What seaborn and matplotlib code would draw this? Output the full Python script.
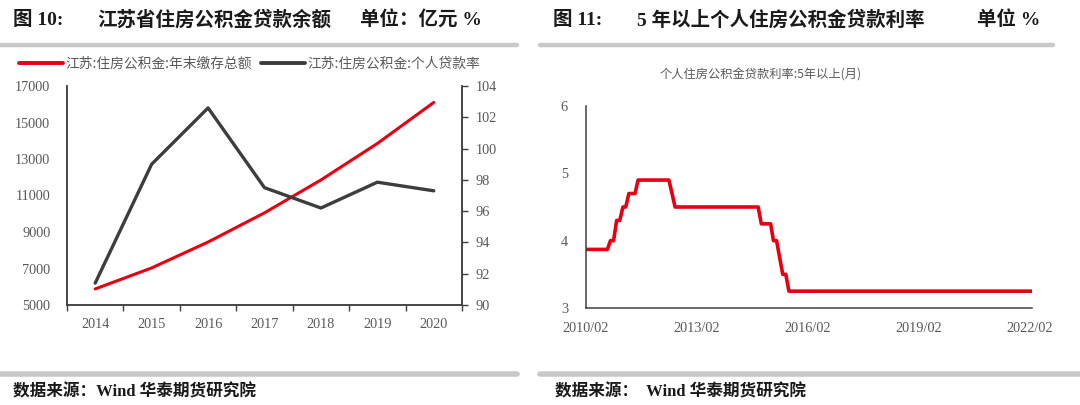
import matplotlib
matplotlib.use('Agg')
import pandas as pd
import numpy as np
import matplotlib.pyplot as plt
import matplotlib.dates as mdates
from matplotlib.lines import Line2D
import seaborn as sns

# figure 10: Jiangsu provident fund
years = ['2014', '2015', '2016', '2017', '2018', '2019', '2020']
deposit_total = [5880, 7030, 8450, 10050, 11850, 13850, 16100]
loan_ratio = [91.4, 99.0, 102.6, 97.5, 96.2, 97.85, 97.3]
deposit_label = '江苏:住房公积金:年末缴存总额'
ratio_label = '江苏:住房公积金:个人贷款率'

# figure 11: 5y+ provident fund loan rate (monthly, change points)
rate_months = ['2010-02', '2010-09', '2010-10', '2010-11', '2010-12', '2011-01',
               '2011-02', '2011-03', '2011-04', '2011-06', '2011-07', '2012-05',
               '2012-06', '2012-07', '2014-10', '2014-11', '2015-02', '2015-03',
               '2015-04', '2015-05', '2015-06', '2015-07', '2015-08', '2022-03']
rates = [3.87, 3.87, 4.00, 4.00, 4.30, 4.30,
         4.50, 4.50, 4.70, 4.70, 4.90, 4.90,
         4.70, 4.50, 4.50, 4.25, 4.25, 4.00,
         4.00, 3.75, 3.50, 3.50, 3.25, 3.25]
rate_ticks = ['2010-02', '2013-02', '2016-02', '2019-02', '2022-02']

sns.set_style('white')
cjk = ['Noto Sans CJK SC', 'DejaVu Sans']
serif = ['Liberation Serif', 'Noto Sans CJK SC']
plt.rcParams['font.family'] = cjk

RED = '#e60012'
DARK = '#3d3d3d'
GREY_TXT = '#595959'
SPINE = '#404040'
BAR = '#c8c8c8'

W, H = 1080, 405
fig = plt.figure(figsize=(10.8, 4.05), dpi=100)


def px_axes(x0, x1, ytop, ybot):
    return fig.add_axes([x0 / W, (H - ybot) / H, (x1 - x0) / W, (ybot - ytop) / H])


def ftext(x, y, s, **kw):
    fig.text(x / W, 1 - y / H, s, **kw)


# ---- headers / footers
hdr = dict(fontsize=14, fontweight='bold', color='#1a1a1a', va='center', family=serif)
ftext(13, 20, '图 10:', **hdr)
ftext(97, 20, '江苏省住房公积金贷款余额', **hdr)
ftext(360, 20, '单位：亿元 %', **hdr)
ftext(553, 20, '图 11:', **hdr)
ftext(637, 20, '5 年以上个人住房公积金贷款利率', **hdr)
ftext(977, 20, '单位 %', **hdr)

for (a, b) in [(0, 517), (540, 1053)]:
    fig.add_artist(Line2D([a / W, b / W], [1 - 45 / H] * 2, color=BAR, lw=3.2))
for (a, b) in [(0, 517), (540, 1080)]:
    fig.add_artist(Line2D([a / W, b / W], [1 - 374 / H] * 2, color=BAR, lw=4))

ftr = dict(fontsize=12, fontweight='bold', color='#1a1a1a', va='center', family=serif)
ftext(13, 392, '数据来源：Wind 华泰期货研究院', **ftr)
ftext(555, 392, '数据来源：  Wind 华泰期货研究院', **ftr)

# ---- left chart
ax = px_axes(67, 462, 86, 305)
df1 = pd.DataFrame({'year': years, 'deposit': deposit_total, 'ratio': loan_ratio})
sns.lineplot(data=df1, x='year', y='deposit', ax=ax, color=RED, lw=2.2, sort=False)
ax2 = ax.twinx()
sns.lineplot(data=df1, x='year', y='ratio', ax=ax2, color=DARK, lw=2.4, sort=False)

ax.set_xlim(-0.5, len(years) - 0.5)
ax.set_ylim(5000, 17000)
ax.set_yticks(range(5000, 17001, 2000))
ax2.set_ylim(90, 104)
ax2.set_yticks(range(90, 105, 2))
ax.set_xticks(range(len(years)))
ax.set_xticklabels(years)
ax.set_xticks(np.arange(-0.5, len(years)), minor=True)
ax.tick_params(axis='x', which='major', length=0, pad=9, labelsize=10.3, labelcolor=GREY_TXT)
ax.tick_params(axis='x', which='minor', length=4, width=1, color=SPINE, direction='out', bottom=True)
ax.tick_params(axis='y', length=0, pad=12, labelsize=10.3, labelcolor=GREY_TXT)
ax2.tick_params(axis='y', length=4, width=1, color=SPINE, direction='out', pad=6,
                labelsize=10.3, labelcolor=GREY_TXT)
for a in (ax, ax2):
    a.set_xlabel('')
    a.set_ylabel('')
    a.spines['top'].set_visible(False)
    for s in ('left', 'right', 'bottom'):
        a.spines[s].set_color(SPINE)
        a.spines[s].set_linewidth(1.1)
for lab in ax.get_xticklabels() + ax.get_yticklabels() + ax2.get_yticklabels():
    lab.set_family('Liberation Serif')

handles = [Line2D([], [], color=RED, lw=2.8), Line2D([], [], color=DARK, lw=2.8)]
fig.legend(handles, [deposit_label, ratio_label], loc='center left',
           bbox_to_anchor=(19 / W, 1 - 64 / H), ncol=2, frameon=False,
           fontsize=9.9, handlelength=3.2, handletextpad=0.15, columnspacing=0.7,
           labelcolor=GREY_TXT, borderaxespad=0, borderpad=0)

# ---- right chart
bx = px_axes(586, 1032, 106, 308)
df2 = pd.DataFrame({'month': pd.to_datetime(rate_months), 'rate': rates})
sns.lineplot(data=df2, x='month', y='rate', ax=bx, color=RED, lw=2.6)
bx.set_xlim(pd.Timestamp('2010-02-01'), pd.Timestamp('2022-03-01'))
bx.set_ylim(3, 6)
bx.set_yticks([3, 4, 5, 6])
bx.set_xticks(pd.to_datetime(rate_ticks))
bx.xaxis.set_major_formatter(mdates.DateFormatter('%Y/%m'))
bx.tick_params(axis='x', length=4, width=1, color=SPINE, direction='out', pad=6,
               labelsize=10.3, labelcolor=GREY_TXT)
bx.tick_params(axis='y', length=0, pad=13, labelsize=10.3, labelcolor=GREY_TXT)
bx.set_xlabel('')
bx.set_ylabel('')
for s in ('top', 'right'):
    bx.spines[s].set_visible(False)
for s in ('left', 'bottom'):
    bx.spines[s].set_color(SPINE)
    bx.spines[s].set_linewidth(1.1)
for lab in bx.get_xticklabels() + bx.get_yticklabels():
    lab.set_family('Liberation Serif')
ftext(761, 75, '个人住房公积金贷款利率:5年以上(月)', fontsize=8.8, color=GREY_TXT,
      ha='center', va='center')

fig.savefig('out.png', dpi=100)
